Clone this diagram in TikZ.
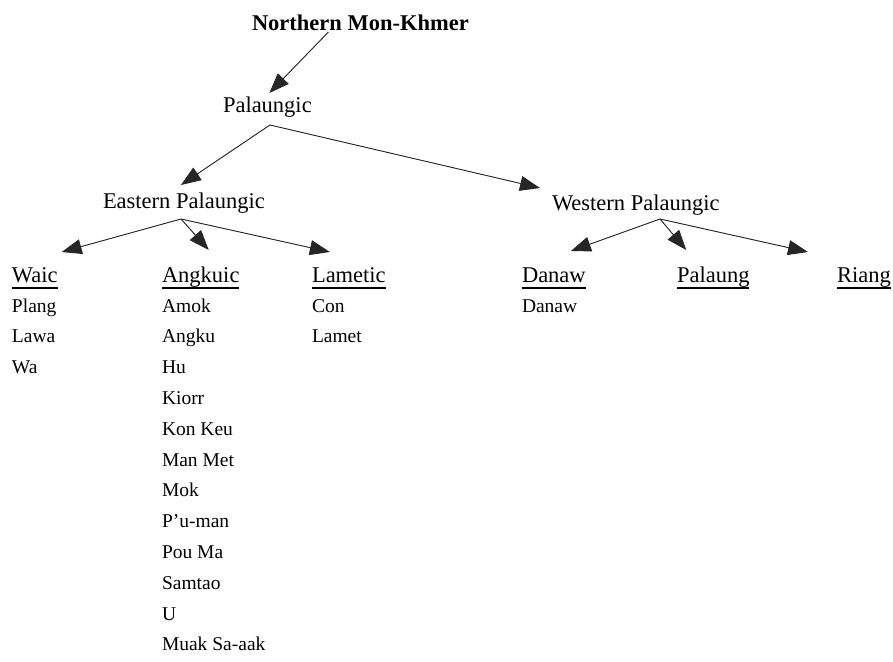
\documentclass[tikz,border=0pt]{standalone}
\usepackage{fontspec}
\setmainfont{Liberation Serif}
\usepackage{tikz}
\usetikzlibrary{arrows.meta, positioning}

\newcommand\headfont{\fontsize{22.5}{27}\selectfont}
\newcommand\langfont{\fontsize{19.5}{23}\selectfont}
% word-processor style underline
\newcommand\uln[1]{\setbox0\hbox{#1}\rlap{\rule[-6.5pt]{\wd0}{2pt}}\box0}

\begin{document}
\begin{tikzpicture}[
    x=1pt, y=-1pt,
    node distance=11.8pt and 0pt,
    every node/.style={inner sep=0pt, outer sep=0pt},
    root/.style={font=\headfont\bfseries, anchor=base west},
    group/.style={font=\headfont, anchor=base west, text height=15pt},
    branch/.style={font=\headfont, anchor=base west, text height=15pt},
    lang/.style={font=\langfont, text height=14pt, text depth=5pt},
    arrow/.style={-{Triangle[length=20pt,width=15pt]}, line width=0.9pt, draw=black!85, fill=black}
]
\useasboundingbox (0,0) rectangle (893,661);

% upper levels
\node[root] (nmk) at (252,31) {Northern Mon-Khmer};
\node[group] (pal) at (223,112) {Palaungic};
\node[group] (east) at (103,208) {Eastern Palaungic};
\node[group] (west) at (552,210) {Western Palaungic};

% branches
\node[branch] (waic) at (12,282) {\uln{Waic}};
\node[branch] (angk) at (162,282) {\uln{Angkuic}};
\node[branch] (lam) at (312,282) {\uln{Lametic}};
\node[branch] (dan) at (522,282) {\uln{Danaw}};
\node[branch] (plg) at (677,282) {\uln{Palaung}};
\node[branch] (riang) at (837,282) {\uln{Riang}};

% Waic languages
\node[lang, anchor=base west] (plang) at (12,312) {Plang};
\node[lang, below right=of plang.south west] (lawa) {Lawa};
\node[lang, below right=of lawa.south west] (wa) {Wa};

% Angkuic languages
\node[lang, anchor=base west] (amok) at (162,312) {Amok};
\node[lang, below right=of amok.south west] (angku) {Angku};
\node[lang, below right=of angku.south west] (hu) {Hu};
\node[lang, below right=of hu.south west] (kiorr) {Kiorr};
\node[lang, below right=of kiorr.south west] (konkeu) {Kon Keu};
\node[lang, below right=of konkeu.south west] (manmet) {Man Met};
\node[lang, below right=of manmet.south west] (mok) {Mok};
\node[lang, below right=of mok.south west] (puman) {P'u-man};
\node[lang, below right=of puman.south west] (pouma) {Pou Ma};
\node[lang, below right=of pouma.south west] (samtao) {Samtao};
\node[lang, below right=of samtao.south west] (u) {U};
\node[lang, below right=of u.south west] (muak) {Muak Sa-aak};

% Lametic languages
\node[lang, anchor=base west] (con) at (312,312) {Con};
\node[lang, below right=of con.south west] (lamet) {Lamet};

% Danaw language
\node[lang, anchor=base west] (danaw) at (522,312) {Danaw};

% split points
\coordinate (pj) at (270,125);
\coordinate (ej) at (181,219);
\coordinate (wj) at (660,219);

\draw[arrow] ([xshift=-32pt,yshift=-1pt]nmk.base) -- ([xshift=2pt,yshift=4pt]pal.north);
\draw[arrow] (pj) -- ([xshift=-3pt,yshift=8pt]east.north);
\draw[arrow] (pj) -- ([xshift=-12pt,yshift=7pt]west.north west);

\draw[arrow] (ej) -- ([xshift=4pt,yshift=15pt]waic.north east);
\draw[arrow] (ej) -- ([xshift=8pt,yshift=17pt]angk.north);
\draw[arrow] (ej) -- ([xshift=-19pt,yshift=15pt]lam.north);

\draw[arrow] (wj) -- ([xshift=17pt,yshift=16pt]dan.north);
\draw[arrow] (wj) -- ([xshift=-27pt,yshift=17pt]plg.north);
\draw[arrow] (wj) -- ([xshift=-29pt,yshift=15pt]riang.north west);
\end{tikzpicture}
\end{document}
